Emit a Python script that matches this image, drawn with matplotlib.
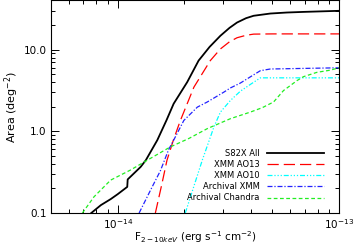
#!/usr/bin/env python3
"""Survey area vs. 2-10 keV flux limit for the S82X sub-surveys."""

import matplotlib

matplotlib.use("Agg")
import matplotlib.pyplot as plt
from matplotlib.ticker import LogLocator, NullFormatter, FixedLocator, FixedFormatter

# flux (erg s^-1 cm^-2) and area (deg^2)
s82x_flux = [7.6e-15, 8.4e-15, 9.3e-15, 1.0e-14, 1.105e-14, 1.11e-14, 1.27e-14,
             1.34e-14, 1.51e-14, 1.66e-14, 1.79e-14, 2.06e-14, 2.32e-14, 2.6e-14,
             2.91e-14, 3.2e-14, 3.46e-14, 3.8e-14, 4.11e-14, 4.89e-14, 5.8e-14,
             6.9e-14, 1.0e-13]
s82x_area = [0.1, 0.125, 0.148, 0.17, 0.209, 0.258, 0.367,
             0.443, 0.78, 1.36, 2.18, 4.0, 7.35, 10.8,
             14.8, 18.5, 21.5, 24.3, 26.0, 27.7, 28.5,
             29.0, 29.9]

ao13_flux = [1.48e-14, 1.58e-14, 1.67e-14, 1.79e-14, 1.92e-14, 2.21e-14, 2.62e-14,
             2.91e-14, 3.2e-14, 3.46e-14, 3.8e-14, 4.11e-14, 5.0e-14, 1.0e-13]
ao13_area = [0.1, 0.22, 0.443, 0.8, 1.36, 3.48, 7.35,
             10.2, 12.5, 14.0, 15.0, 15.5, 15.6, 15.6]

ao10_flux = [2.02e-14, 2.41e-14, 2.72e-14, 2.91e-14, 3.23e-14, 3.58e-14, 4.0e-14,
             4.41e-14, 1.0e-13]
ao10_area = [0.1, 0.443, 1.13, 1.72, 2.39, 3.1, 3.8,
             4.52, 4.52]

arch_xmm_flux = [1.25e-14, 1.42e-14, 1.56e-14, 1.70e-14, 1.79e-14, 1.99e-14, 2.29e-14,
                 2.54e-14, 3.01e-14, 3.23e-14, 3.58e-14, 4.0e-14, 4.41e-14, 4.89e-14,
                 1.0e-13]
arch_xmm_area = [0.1, 0.2, 0.33, 0.6, 0.78, 1.36, 1.98,
                 2.29, 3.01, 3.4, 3.9, 4.7, 5.53, 5.8,
                 6.0]

chandra_flux = [6.93e-15, 7.82e-15, 9.3e-15, 1.14e-14, 1.36e-14, 1.73e-14, 2.1e-14,
                2.54e-14, 3.23e-14, 3.97e-14, 4.5e-14, 5.06e-14, 5.61e-14, 6.46e-14,
                6.9e-14, 7.94e-14, 9.08e-14, 1.0e-13]
chandra_area = [0.1, 0.158, 0.253, 0.335, 0.443, 0.645, 0.82,
                1.08, 1.43, 1.72, 1.95, 2.29, 3.16, 4.19,
                4.67, 5.28, 5.6, 6.0]

x_ticks = [1e-14, 1e-13]
y_ticks = [0.1, 1.0, 10.0]
y_tick_labels = ["0.1", "1.0", "10.0"]


def main() -> None:
    fig = plt.figure(figsize=(3.54, 2.48), dpi=100)
    ax = fig.add_axes([0.144, 0.141, 0.814, 0.857])

    ax.plot(s82x_flux, s82x_area, color="black", lw=1.3, label="S82X All")
    ax.plot(ao13_flux, ao13_area, color="red", lw=0.9, ls=(0, (9, 4)),
            label="XMM AO13")
    ax.plot(ao10_flux, ao10_area, color="#00ffff", lw=0.9,
            ls=(0, (4, 1.5, 1, 1.5, 1, 1.5, 1, 1.5)), label="XMM AO10")
    ax.plot(arch_xmm_flux, arch_xmm_area, color="#2222ff", lw=0.9,
            ls=(0, (4, 1.5, 1, 1.5)), label="Archival XMM")
    ax.plot(chandra_flux, chandra_area, color="#22ee22", lw=0.9,
            ls=(0, (3, 2)), label="Archival Chandra")

    ax.set_xscale("log")
    ax.set_yscale("log")
    ax.set_xlim(5.0e-15, 1.0e-13)
    ax.set_ylim(0.1, 40)

    ax.xaxis.set_major_locator(FixedLocator(x_ticks))
    ax.xaxis.set_minor_locator(LogLocator(base=10, subs=range(2, 10)))
    ax.xaxis.set_minor_formatter(NullFormatter())
    ax.yaxis.set_major_locator(FixedLocator(y_ticks))
    ax.yaxis.set_major_formatter(FixedFormatter(y_tick_labels))
    ax.yaxis.set_minor_locator(LogLocator(base=10, subs=range(2, 10)))
    ax.yaxis.set_minor_formatter(NullFormatter())

    ax.tick_params(which="both", direction="in", top=True, right=True,
                   labelsize=7.5, colors="black", width=0.7)
    ax.tick_params(which="major", length=6)
    ax.tick_params(which="minor", length=3)
    ax.tick_params(axis="x", pad=3)
    ax.tick_params(axis="y", pad=3)
    for spine in ax.spines.values():
        spine.set_linewidth(0.8)

    ax.set_xlabel(r"F$_{2-10keV}$ (erg s$^{-1}$ cm$^{-2}$)", fontsize=7.5, labelpad=-1)
    ax.set_ylabel(r"Area (deg$^{-2}$)", fontsize=8, labelpad=2)

    ax.legend(loc="lower right", bbox_to_anchor=(0.962, 0.03), fontsize=6,
              frameon=False, markerfirst=False, handlelength=6.9,
              handletextpad=0.85, labelspacing=0.25, borderpad=0)

    fig.savefig("out.png", dpi=100)


if __name__ == "__main__":
    main()
